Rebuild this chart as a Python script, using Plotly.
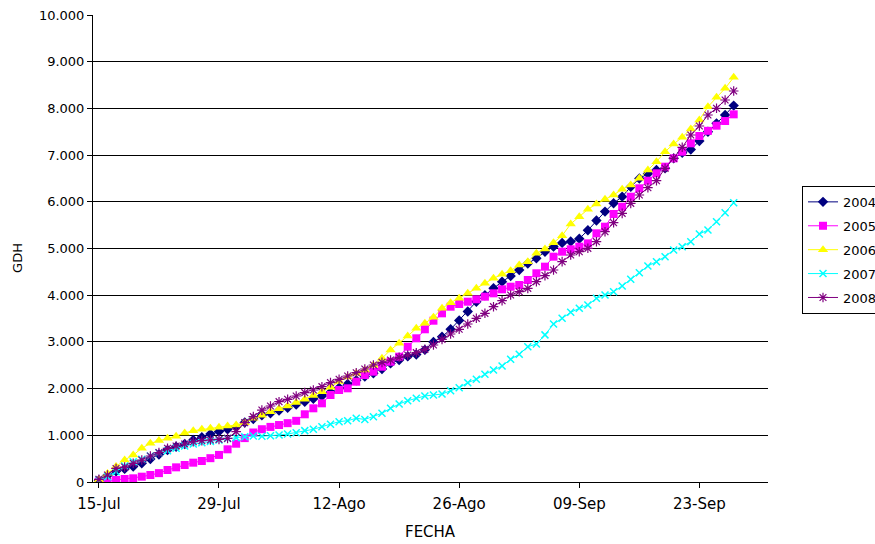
import pandas as pd
import plotly.graph_objects as go

# Daily dates, 15 Jul through 27 Sep
dates = pd.date_range("2008-07-15", periods=75, freq="D")

gdh_2004 = [40, 140, 230, 280, 330, 400, 490, 590, 685, 756,
            815, 899, 960, 1030, 1080, 1130, 1180, 1275, 1350, 1430,
            1471, 1530, 1590, 1660, 1720, 1780, 1840, 1920, 2020, 2100,
            2180, 2260, 2330, 2420, 2540, 2610, 2690, 2730, 2830, 3000,
            3110, 3270, 3460, 3650, 3860, 4000, 4150, 4290, 4410, 4540,
            4680, 4790, 4930, 5040, 5120, 5150, 5210, 5390, 5600, 5790,
            5970, 6110, 6320, 6500, 6600, 6680, 6720, 6930, 7050, 7120,
            7300, 7500, 7680, 7860, 8060]

gdh_2005 = [10, 10, 43, 64, 79, 114, 150, 190, 257, 314,
            364, 414, 450, 510, 580, 700, 820, 940, 1060, 1130,
            1180, 1220, 1260, 1310, 1450, 1578, 1685, 1863, 1970, 2006,
            2148, 2291, 2362, 2469, 2576, 2683, 2897, 3077, 3270, 3454,
            3612, 3754, 3812, 3861, 3912, 3968, 4040, 4126, 4182, 4218,
            4325, 4469, 4611, 4825, 4932, 4983, 5039, 5110, 5325, 5467,
            5739, 5895, 6109, 6289, 6452, 6610, 6752, 6931, 7073, 7252,
            7409, 7520, 7630, 7730, 7873]

gdh_2006 = [50, 180, 330, 471, 578, 721, 828, 890, 935, 980,
            1050, 1099, 1128, 1150, 1171, 1199, 1221, 1270, 1364, 1430,
            1506, 1570, 1627, 1700, 1771, 1850, 1934, 2030, 2150, 2250,
            2330, 2400, 2500, 2649, 2827, 2970, 3126, 3290, 3398, 3526,
            3719, 3840, 3933, 4040, 4147, 4254, 4361, 4447, 4525, 4647,
            4718, 4897, 4990, 5125, 5275, 5525, 5682, 5839, 5953, 6053,
            6146, 6268, 6360, 6503, 6681, 6859, 7073, 7238, 7381, 7559,
            7752, 8036, 8237, 8430, 8666]

gdh_2007 = [43, 114, 221, 343, 435, 485, 557, 628, 671, 721,
            771, 814, 840, 870, 900, 930, 950, 970, 985, 980,
            990, 1006, 1028, 1056, 1100, 1128, 1185, 1235, 1292, 1313,
            1364, 1340, 1399, 1471, 1578, 1670, 1741, 1792, 1842, 1863,
            1884, 1955, 2020, 2127, 2199, 2306, 2398, 2484, 2627, 2734,
            2897, 2955, 3150, 3383, 3505, 3633, 3719, 3790, 3933, 4004,
            4075, 4197, 4340, 4482, 4625, 4718, 4825, 4968, 5039, 5146,
            5310, 5396, 5574, 5767, 5981]

gdh_2008 = [57, 150, 290, 320, 400, 470, 557, 628, 721, 771,
            814, 863, 885, 899, 913, 935, 1078, 1270, 1400, 1540,
            1627, 1720, 1771, 1842, 1913, 1970, 2041, 2127, 2199, 2270,
            2340, 2420, 2505, 2562, 2612, 2670, 2719, 2769, 2841, 2934,
            3055, 3169, 3270, 3383, 3505, 3612, 3754, 3882, 4004, 4075,
            4147, 4290, 4420, 4540, 4718, 4861, 4932, 5004, 5146, 5360,
            5553, 5753, 5967, 6146, 6302, 6452, 6717, 6931, 7167, 7430,
            7623, 7859, 8002, 8180, 8373]

tick_dates = ["2008-07-15", "2008-07-29", "2008-08-12", "2008-08-26", "2008-09-09", "2008-09-23"]
tick_labels = ["15-Jul", "29-Jul", "12-Ago", "26-Ago", "09-Sep", "23-Sep"]

FONT = "DejaVu Sans, Arial, sans-serif"
FS = 13
FS_X = 15

series = [
    ("2004", gdh_2004, "#000080", dict(symbol="diamond", size=8, color="#000080")),
    ("2005", gdh_2005, "#FF00FF", dict(symbol="square", size=8, color="#FF00FF")),
    ("2006", gdh_2006, "#FFFF00", dict(symbol="triangle-up", size=9, color="#FFFF00")),
    ("2007", gdh_2007, "#00FFFF", dict(symbol="x-thin", size=7, color="#00FFFF",
                                       line=dict(color="#00FFFF", width=1.5))),
    ("2008", gdh_2008, "#800080", dict(symbol="asterisk", size=8, color="#800080",
                                       line=dict(color="#800080", width=1.2))),
]

fig = go.Figure()
for name, vals, col, mk in series:
    fig.add_trace(go.Scatter(
        x=dates, y=vals, name=name, mode="lines+markers",
        line=dict(color=col, width=1), marker=mk, legendgroup=name,
    ))

fig.update_layout(
    width=875, height=544,
    margin=dict(l=93, r=107, t=15, b=62, autoexpand=False),
    paper_bgcolor="white", plot_bgcolor="white",
    separators=",.",
    font=dict(family=FONT, size=FS, color="black"),
    showlegend=True,
    legend=dict(
        x=(802 - 93) / 675, y=0.634, xanchor="left", yanchor="top",
        bordercolor="black", borderwidth=1, bgcolor="white",
        font=dict(family=FONT, size=FS, color="black"),
        tracegroupgap=4, itemwidth=30,
    ),
    annotations=[
        dict(text="FECHA", xref="paper", yref="paper", x=0.5, y=-0.107,
             xanchor="center", yanchor="middle", showarrow=False,
             font=dict(family=FONT, size=FS_X)),
        dict(text="GDH", xref="paper", yref="paper", x=-0.111, y=0.48,
             xanchor="center", yanchor="middle", showarrow=False, textangle=-90,
             font=dict(family=FONT, size=FS)),
    ],
)

fig.update_xaxes(
    type="date", range=["2008-07-14 07:30", "2008-10-01 00:00"],
    tickvals=tick_dates, ticktext=tick_labels, tickfont=dict(size=FS_X),
    ticklabelstandoff=3,
    showgrid=False, zeroline=False,
    showline=True, linecolor="black", linewidth=1,
    ticks="outside", ticklen=5, tickcolor="black", tickwidth=1,
)
fig.update_yaxes(
    range=[0, 10000], dtick=1000, tick0=0, tickformat=",d",
    showgrid=True, gridcolor="black", gridwidth=1, zeroline=False,
    showline=True, linecolor="black", linewidth=1,
    ticks="outside", ticklen=5, tickcolor="black", tickwidth=1,
)

fig.write_html("out.html")
